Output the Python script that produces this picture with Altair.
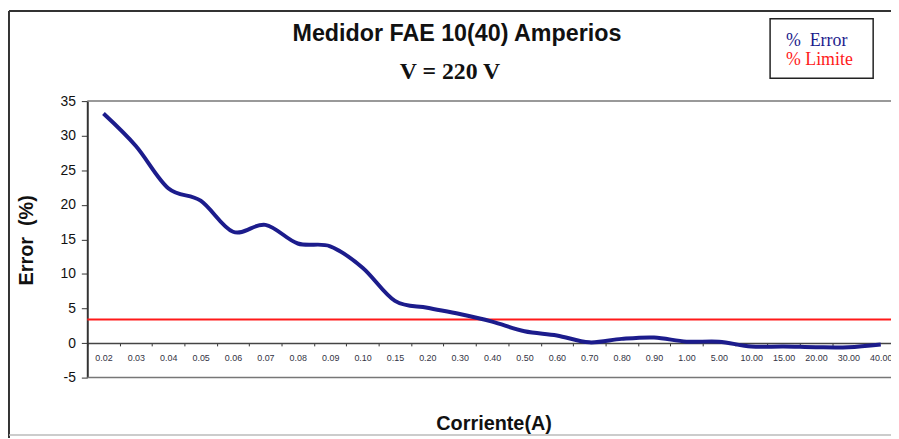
import altair as alt
import pandas as pd

# ---- data ----
corriente = ["0.02", "0.03", "0.04", "0.05", "0.06", "0.07", "0.08", "0.09", "0.10",
             "0.15", "0.20", "0.30", "0.40", "0.50", "0.60", "0.70", "0.80", "0.90",
             "1.00", "5.00", "10.00", "15.00", "20.00", "30.00", "40.00"]
error_pct = [33.2, 28.5, 22.4, 20.6, 16.1, 17.1, 14.4, 14.0, 10.9,
             6.1, 5.1, 4.2, 3.1, 1.7, 1.1, 0.1, 0.6, 0.8,
             0.2, 0.2, -0.5, -0.5, -0.6, -0.6, -0.2]
limite = 3.4
y_ticks = [-5, 0, 5, 10, 15, 20, 25, 30, 35]
legend_labels = ["%\u00a0\u00a0Error", "%\u00a0Limite"]
legend_colors = ["#1c1c8c", "#ff1a1a"]
title_text = "Medidor FAE 10(40) Amperios"
subtitle_text = "V = 220 V"
x_title = "Corriente(A)"
y_title = "Error\u00a0\u00a0(%)"

W, H = 817, 279

df = pd.DataFrame({"Corriente": corriente, "Error": error_pct})
one = pd.DataFrame({"k": [0]})

x_scale = alt.Scale(type="band", domain=corriente, paddingInner=0, paddingOuter=0)
y_scale = alt.Scale(domain=[-5, 35], nice=False, zero=False)

y_axis = alt.Axis(title=y_title, values=y_ticks, tickCount=len(y_ticks), grid=False,
                  labelExpr="'' + datum.value", labelOverlap=False,
                  labelFont="Liberation Sans", labelFontSize=14, labelColor="#111",
                  labelPadding=6, tickSize=6, tickColor="#333",
                  domainColor="#333", domainWidth=2,
                  titleFont="Liberation Sans", titleFontSize=20, titleFontWeight="bold",
                  titleColor="#111", titleBaseline="alphabetic", titleX=-55, titleY=140)

line = alt.Chart(df).mark_line(
    color=legend_colors[0], strokeWidth=4, interpolate="cardinal"
).encode(
    x=alt.X("Corriente:N", sort=corriente, scale=x_scale,
            axis=alt.Axis(title=x_title, orient="bottom", offset=-35,
                          labelAngle=0, labelFont="Liberation Sans", labelFontSize=9,
                          labelColor="#333344", labelPadding=8, labelOverlap=False,
                          tickBand="extent", tickSize=3, tickColor="#333",
                          domainColor="#444", domainWidth=1.5,
                          titleFont="Liberation Sans", titleFontSize=20, titleFontWeight="bold",
                          titleColor="#111", titleBaseline="alphabetic", titleY=87, titleX=410)),
    y=alt.Y("Error:Q", scale=y_scale, axis=y_axis),
)

limit_rule = alt.Chart(one).mark_rule(color=legend_colors[1], strokeWidth=2).encode(
    y=alt.datum(limite, scale=y_scale, axis=y_axis)
)
top_border = alt.Chart(one).mark_rule(color="#777", strokeWidth=1.5).encode(
    y=alt.datum(35, scale=y_scale, axis=y_axis)
)
bottom_border = alt.Chart(one).mark_rule(color="#777", strokeWidth=1.5).encode(
    y=alt.datum(-5, scale=y_scale, axis=y_axis)
)

# outer chart-area frame
frame_left = alt.Chart(one).mark_rule(color="#333", strokeWidth=2).encode(
    x=alt.value(-79), y=alt.value(-91), y2=alt.value(340))
frame_top = alt.Chart(one).mark_rule(color="#333", strokeWidth=2).encode(
    x=alt.value(-79), x2=alt.value(W), y=alt.value(-91))
frame_bottom = alt.Chart(one).mark_rule(color="#bbb", strokeWidth=1.5).encode(
    x=alt.value(-79), x2=alt.value(W), y=alt.value(337))

# titles
title_mark = alt.Chart(one).mark_text(
    text=title_text, font="Liberation Sans", fontSize=23.5, fontWeight="bold",
    color="#111", align="center", baseline="alphabetic"
).encode(x=alt.value(373), y=alt.value(-61))
subtitle_mark = alt.Chart(one).mark_text(
    text=subtitle_text, font="Liberation Serif", fontSize=24, fontWeight="bold",
    color="#111", align="center", baseline="alphabetic"
).encode(x=alt.value(366), y=alt.value(-22))

# legend box
legend_box = alt.Chart(one).mark_rect(fill="white", stroke="#222", strokeWidth=1.5).encode(
    x=alt.value(689), x2=alt.value(793), y=alt.value(-83), y2=alt.value(-23))
legend_err = alt.Chart(one).mark_text(
    text=legend_labels[0], font="Liberation Serif", fontSize=18, color=legend_colors[0],
    align="left", baseline="alphabetic"
).encode(x=alt.value(705), y=alt.value(-56))
legend_lim = alt.Chart(one).mark_text(
    text=legend_labels[1], font="Liberation Serif", fontSize=18, color=legend_colors[1],
    align="left", baseline="alphabetic"
).encode(x=alt.value(705), y=alt.value(-36))

chart = alt.layer(
    top_border, bottom_border, limit_rule, line,
    frame_left, frame_top, frame_bottom,
    title_mark, subtitle_mark, legend_box, legend_err, legend_lim
).properties(
    width=W, height=H,
    autosize=alt.AutoSizeParams(type="none"),
    padding={"left": 80, "top": 92, "right": -6, "bottom": 60},
    background="white",
).configure_view(strokeWidth=0)

chart.save("out.html", embed_options={"renderer": "svg", "actions": False})
